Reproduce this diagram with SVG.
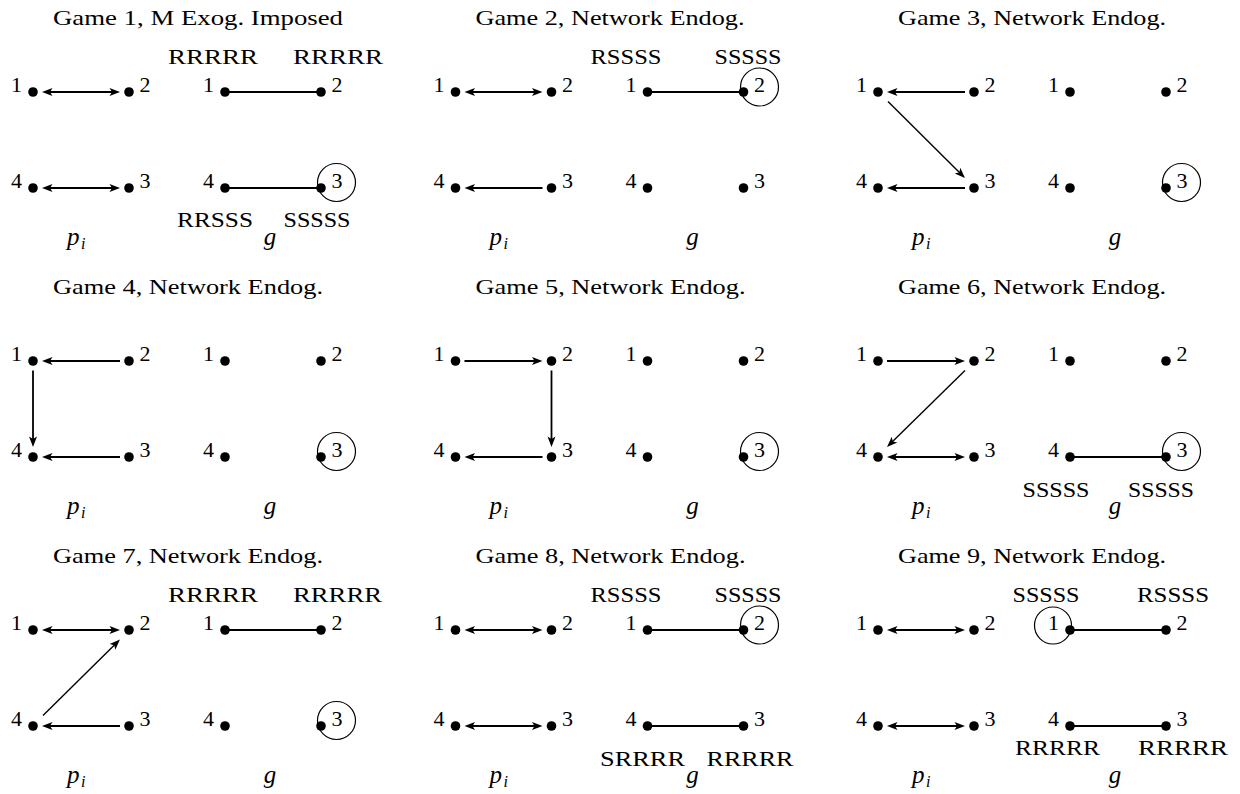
<svg xmlns="http://www.w3.org/2000/svg" width="1240" height="794" viewBox="0 0 1240 794">
<style>
text{font-family:"Liberation Serif","Times New Roman",serif;font-size:22px;fill:#000}
.it{font-style:italic;font-size:25px}
.sub{font-style:italic;font-size:16px}
.s{text-anchor:start}
.e{text-anchor:end}
.m{text-anchor:middle}
.dot{fill:#000}
.pl{stroke:#000;stroke-width:1.8;fill:none}
.dl{stroke:#000;stroke-width:1.4;fill:none}
.gl{stroke:#000;stroke-width:2;fill:none}
.ring{stroke:#000;stroke-width:1.2;fill:none}
.a1{marker-end:url(#ah)}
.a2{marker-start:url(#ah);marker-end:url(#ah)}
</style>
<defs>
<marker id="ah" markerUnits="userSpaceOnUse" viewBox="-5 -5 12 10" markerWidth="12" markerHeight="10" refX="0" refY="0" orient="auto-start-reverse" overflow="visible">
<path d="M6,0 L-4.5,-4 L-2,0 L-4.5,4 Z" fill="#000"/>
</marker>
</defs>

<!-- Game 1 -->
<g id="game1" transform="translate(0,0)">
<text id="g1-title" x="53" y="25" textLength="290" lengthAdjust="spacingAndGlyphs">Game 1, M Exog. Imposed</text>
<g id="g1-connectors">
<line class="pl a2" x1="48" y1="92" x2="114" y2="92"/>
<line class="pl a2" x1="48" y1="188" x2="114" y2="188"/>
<line class="gl" x1="225" y1="92" x2="321" y2="92"/>
<line class="gl" x1="225" y1="188" x2="321" y2="188"/>
</g>
<g id="g1-p1"><circle class="dot" cx="33" cy="92" r="4.8"/><text class="e" x="22" y="92">1</text></g>
<g id="g1-p2"><circle class="dot" cx="129" cy="92" r="4.8"/><text class="s" x="139.5" y="92">2</text></g>
<g id="g1-p3"><circle class="dot" cx="129" cy="188" r="4.8"/><text class="s" x="139.5" y="188">3</text></g>
<g id="g1-p4"><circle class="dot" cx="33" cy="188" r="4.8"/><text class="e" x="22" y="188">4</text></g>
<g id="g1-n1"><circle class="dot" cx="225" cy="92" r="4.8"/><text class="e" x="214" y="92">1</text><text class="m" x="213" y="64" textLength="90" lengthAdjust="spacingAndGlyphs">RRRRR</text></g>
<g id="g1-n2"><circle class="dot" cx="321" cy="92" r="4.8"/><text class="s" x="331.5" y="92">2</text><text class="m" x="338" y="64" textLength="90" lengthAdjust="spacingAndGlyphs">RRRRR</text></g>
<g id="g1-n3"><circle class="dot" cx="321" cy="188" r="4.8"/><text class="s" x="331.5" y="188">3</text><circle class="ring" cx="336.5" cy="182.5" r="19"/><text class="m" x="317" y="227" textLength="67" lengthAdjust="spacingAndGlyphs">SSSSS</text></g>
<g id="g1-n4"><circle class="dot" cx="225" cy="188" r="4.8"/><text class="e" x="214" y="188">4</text><text class="m" x="215" y="227" textLength="76" lengthAdjust="spacingAndGlyphs">RRSSS</text></g>
<text x="67" y="245" class="it">p</text><text x="81" y="249" class="sub">i</text>
<text x="270" y="245" class="it m">g</text>
</g>

<!-- Game 2 -->
<g id="game2" transform="translate(422.5,0)">
<text id="g2-title" x="53" y="25" textLength="269" lengthAdjust="spacingAndGlyphs">Game 2, Network Endog.</text>
<g id="g2-connectors">
<line class="pl a2" x1="48" y1="92" x2="114" y2="92"/>
<line class="pl a1" x1="120" y1="188" x2="48" y2="188"/>
<line class="gl" x1="225" y1="92" x2="321" y2="92"/>
</g>
<g id="g2-p1"><circle class="dot" cx="33" cy="92" r="4.8"/><text class="e" x="22" y="92">1</text></g>
<g id="g2-p2"><circle class="dot" cx="129" cy="92" r="4.8"/><text class="s" x="139.5" y="92">2</text></g>
<g id="g2-p3"><circle class="dot" cx="129" cy="188" r="4.8"/><text class="s" x="139.5" y="188">3</text></g>
<g id="g2-p4"><circle class="dot" cx="33" cy="188" r="4.8"/><text class="e" x="22" y="188">4</text></g>
<g id="g2-n1"><circle class="dot" cx="225" cy="92" r="4.8"/><text class="e" x="214" y="92">1</text><text class="m" x="203.5" y="64" textLength="71" lengthAdjust="spacingAndGlyphs">RSSSS</text></g>
<g id="g2-n2"><circle class="dot" cx="321" cy="92" r="4.8"/><text class="s" x="331.5" y="92">2</text><circle class="ring" cx="337" cy="87" r="19"/><text class="m" x="325.5" y="64" textLength="67" lengthAdjust="spacingAndGlyphs">SSSSS</text></g>
<g id="g2-n3"><circle class="dot" cx="321" cy="188" r="4.8"/><text class="s" x="331.5" y="188">3</text></g>
<g id="g2-n4"><circle class="dot" cx="225" cy="188" r="4.8"/><text class="e" x="214" y="188">4</text></g>
<text x="67" y="245" class="it">p</text><text x="81" y="249" class="sub">i</text>
<text x="270" y="245" class="it m">g</text>
</g>

<!-- Game 3 -->
<g id="game3" transform="translate(845,0)">
<text id="g3-title" x="53" y="25" textLength="268" lengthAdjust="spacingAndGlyphs">Game 3, Network Endog.</text>
<g id="g3-connectors">
<line class="pl a1" x1="120" y1="92" x2="48" y2="92"/>
<line class="dl a1" x1="43" y1="101.5" x2="115.7" y2="173.8"/>
<line class="pl a1" x1="120" y1="188" x2="48" y2="188"/>
</g>
<g id="g3-p1"><circle class="dot" cx="33" cy="92" r="4.8"/><text class="e" x="22" y="92">1</text></g>
<g id="g3-p2"><circle class="dot" cx="129" cy="92" r="4.8"/><text class="s" x="139.5" y="92">2</text></g>
<g id="g3-p3"><circle class="dot" cx="129" cy="188" r="4.8"/><text class="s" x="139.5" y="188">3</text></g>
<g id="g3-p4"><circle class="dot" cx="33" cy="188" r="4.8"/><text class="e" x="22" y="188">4</text></g>
<g id="g3-n1"><circle class="dot" cx="225" cy="92" r="4.8"/><text class="e" x="214" y="92">1</text></g>
<g id="g3-n2"><circle class="dot" cx="321" cy="92" r="4.8"/><text class="s" x="331.5" y="92">2</text></g>
<g id="g3-n3"><circle class="dot" cx="321" cy="188" r="4.8"/><text class="s" x="331.5" y="188">3</text><circle class="ring" cx="336.5" cy="182.5" r="19"/></g>
<g id="g3-n4"><circle class="dot" cx="225" cy="188" r="4.8"/><text class="e" x="214" y="188">4</text></g>
<text x="67" y="245" class="it">p</text><text x="81" y="249" class="sub">i</text>
<text x="270" y="245" class="it m">g</text>
</g>

<!-- Game 4 -->
<g id="game4" transform="translate(0,269)">
<text id="g4-title" x="53" y="25" textLength="270" lengthAdjust="spacingAndGlyphs">Game 4, Network Endog.</text>
<g id="g4-connectors">
<line class="pl a1" x1="120" y1="92" x2="48" y2="92"/>
<line class="pl a1" x1="33" y1="101.5" x2="33" y2="172"/>
<line class="pl a1" x1="120" y1="188" x2="48" y2="188"/>
</g>
<g id="g4-p1"><circle class="dot" cx="33" cy="92" r="4.8"/><text class="e" x="22" y="92">1</text></g>
<g id="g4-p2"><circle class="dot" cx="129" cy="92" r="4.8"/><text class="s" x="139.5" y="92">2</text></g>
<g id="g4-p3"><circle class="dot" cx="129" cy="188" r="4.8"/><text class="s" x="139.5" y="188">3</text></g>
<g id="g4-p4"><circle class="dot" cx="33" cy="188" r="4.8"/><text class="e" x="22" y="188">4</text></g>
<g id="g4-n1"><circle class="dot" cx="225" cy="92" r="4.8"/><text class="e" x="214" y="92">1</text></g>
<g id="g4-n2"><circle class="dot" cx="321" cy="92" r="4.8"/><text class="s" x="331.5" y="92">2</text></g>
<g id="g4-n3"><circle class="dot" cx="321" cy="188" r="4.8"/><text class="s" x="331.5" y="188">3</text><circle class="ring" cx="336.5" cy="182.5" r="19"/></g>
<g id="g4-n4"><circle class="dot" cx="225" cy="188" r="4.8"/><text class="e" x="214" y="188">4</text></g>
<text x="67" y="245" class="it">p</text><text x="81" y="249" class="sub">i</text>
<text x="270" y="245" class="it m">g</text>
</g>

<!-- Game 5 -->
<g id="game5" transform="translate(422.5,269)">
<text id="g5-title" x="53" y="25" textLength="270" lengthAdjust="spacingAndGlyphs">Game 5, Network Endog.</text>
<g id="g5-connectors">
<line class="pl a1" x1="42" y1="92" x2="114" y2="92"/>
<line class="pl a1" x1="129" y1="101.5" x2="129" y2="172"/>
<line class="pl a1" x1="120" y1="188" x2="48" y2="188"/>
</g>
<g id="g5-p1"><circle class="dot" cx="33" cy="92" r="4.8"/><text class="e" x="22" y="92">1</text></g>
<g id="g5-p2"><circle class="dot" cx="129" cy="92" r="4.8"/><text class="s" x="139.5" y="92">2</text></g>
<g id="g5-p3"><circle class="dot" cx="129" cy="188" r="4.8"/><text class="s" x="139.5" y="188">3</text></g>
<g id="g5-p4"><circle class="dot" cx="33" cy="188" r="4.8"/><text class="e" x="22" y="188">4</text></g>
<g id="g5-n1"><circle class="dot" cx="225" cy="92" r="4.8"/><text class="e" x="214" y="92">1</text></g>
<g id="g5-n2"><circle class="dot" cx="321" cy="92" r="4.8"/><text class="s" x="331.5" y="92">2</text></g>
<g id="g5-n3"><circle class="dot" cx="321" cy="188" r="4.8"/><text class="s" x="331.5" y="188">3</text><circle class="ring" cx="337" cy="182.5" r="19"/></g>
<g id="g5-n4"><circle class="dot" cx="225" cy="188" r="4.8"/><text class="e" x="214" y="188">4</text></g>
<text x="67" y="245" class="it">p</text><text x="81" y="249" class="sub">i</text>
<text x="270" y="245" class="it m">g</text>
</g>

<!-- Game 6 -->
<g id="game6" transform="translate(845,269)">
<text id="g6-title" x="53" y="25" textLength="268" lengthAdjust="spacingAndGlyphs">Game 6, Network Endog.</text>
<g id="g6-connectors">
<line class="pl a1" x1="42" y1="92" x2="114" y2="92"/>
<line class="dl a1" x1="120" y1="101.5" x2="46.3" y2="173.8"/>
<line class="pl a2" x1="48" y1="188" x2="114" y2="188"/>
<line class="gl" x1="225" y1="188" x2="321" y2="188"/>
</g>
<g id="g6-p1"><circle class="dot" cx="33" cy="92" r="4.8"/><text class="e" x="22" y="92">1</text></g>
<g id="g6-p2"><circle class="dot" cx="129" cy="92" r="4.8"/><text class="s" x="139.5" y="92">2</text></g>
<g id="g6-p3"><circle class="dot" cx="129" cy="188" r="4.8"/><text class="s" x="139.5" y="188">3</text></g>
<g id="g6-p4"><circle class="dot" cx="33" cy="188" r="4.8"/><text class="e" x="22" y="188">4</text></g>
<g id="g6-n1"><circle class="dot" cx="225" cy="92" r="4.8"/><text class="e" x="214" y="92">1</text></g>
<g id="g6-n2"><circle class="dot" cx="321" cy="92" r="4.8"/><text class="s" x="331.5" y="92">2</text></g>
<g id="g6-n3"><circle class="dot" cx="321" cy="188" r="4.8"/><text class="s" x="331.5" y="188">3</text><circle class="ring" cx="336.5" cy="182.5" r="19"/><text class="m" x="316" y="227.5" textLength="66" lengthAdjust="spacingAndGlyphs">SSSSS</text></g>
<g id="g6-n4"><circle class="dot" cx="225" cy="188" r="4.8"/><text class="e" x="214" y="188">4</text><text class="m" x="211" y="227.5" textLength="67" lengthAdjust="spacingAndGlyphs">SSSSS</text></g>
<text x="67" y="245" class="it">p</text><text x="81" y="249" class="sub">i</text>
<text x="270" y="245" class="it m">g</text>
</g>

<!-- Game 7 -->
<g id="game7" transform="translate(0,538)">
<text id="g7-title" x="53" y="25" textLength="270" lengthAdjust="spacingAndGlyphs">Game 7, Network Endog.</text>
<g id="g7-connectors">
<line class="pl a2" x1="48" y1="92" x2="114" y2="92"/>
<line class="dl a1" x1="43" y1="177.5" x2="115.7" y2="105.8"/>
<line class="pl a1" x1="120" y1="188" x2="48" y2="188"/>
<line class="gl" x1="225" y1="92" x2="321" y2="92"/>
</g>
<g id="g7-p1"><circle class="dot" cx="33" cy="92" r="4.8"/><text class="e" x="22" y="92">1</text></g>
<g id="g7-p2"><circle class="dot" cx="129" cy="92" r="4.8"/><text class="s" x="139.5" y="92">2</text></g>
<g id="g7-p3"><circle class="dot" cx="129" cy="188" r="4.8"/><text class="s" x="139.5" y="188">3</text></g>
<g id="g7-p4"><circle class="dot" cx="33" cy="188" r="4.8"/><text class="e" x="22" y="188">4</text></g>
<g id="g7-n1"><circle class="dot" cx="225" cy="92" r="4.8"/><text class="e" x="214" y="92">1</text><text class="m" x="213" y="64" textLength="90" lengthAdjust="spacingAndGlyphs">RRRRR</text></g>
<g id="g7-n2"><circle class="dot" cx="321" cy="92" r="4.8"/><text class="s" x="331.5" y="92">2</text><text class="m" x="337.5" y="64" textLength="89" lengthAdjust="spacingAndGlyphs">RRRRR</text></g>
<g id="g7-n3"><circle class="dot" cx="321" cy="188" r="4.8"/><text class="s" x="331.5" y="188">3</text><circle class="ring" cx="336.5" cy="182.5" r="19"/></g>
<g id="g7-n4"><circle class="dot" cx="225" cy="188" r="4.8"/><text class="e" x="214" y="188">4</text></g>
<text x="67" y="245" class="it">p</text><text x="81" y="249" class="sub">i</text>
<text x="270" y="245" class="it m">g</text>
</g>

<!-- Game 8 -->
<g id="game8" transform="translate(422.5,538)">
<text id="g8-title" x="53" y="25" textLength="270" lengthAdjust="spacingAndGlyphs">Game 8, Network Endog.</text>
<g id="g8-connectors">
<line class="pl a2" x1="48" y1="92" x2="114" y2="92"/>
<line class="pl a2" x1="48" y1="188" x2="114" y2="188"/>
<line class="gl" x1="225" y1="92" x2="321" y2="92"/>
<line class="gl" x1="225" y1="188" x2="321" y2="188"/>
</g>
<g id="g8-p1"><circle class="dot" cx="33" cy="92" r="4.8"/><text class="e" x="22" y="92">1</text></g>
<g id="g8-p2"><circle class="dot" cx="129" cy="92" r="4.8"/><text class="s" x="139.5" y="92">2</text></g>
<g id="g8-p3"><circle class="dot" cx="129" cy="188" r="4.8"/><text class="s" x="139.5" y="188">3</text></g>
<g id="g8-p4"><circle class="dot" cx="33" cy="188" r="4.8"/><text class="e" x="22" y="188">4</text></g>
<g id="g8-n1"><circle class="dot" cx="225" cy="92" r="4.8"/><text class="e" x="214" y="92">1</text><text class="m" x="203.5" y="64" textLength="71" lengthAdjust="spacingAndGlyphs">RSSSS</text></g>
<g id="g8-n2"><circle class="dot" cx="321" cy="92" r="4.8"/><text class="s" x="331.5" y="92">2</text><circle class="ring" cx="337" cy="87" r="19"/><text class="m" x="325.5" y="64" textLength="67" lengthAdjust="spacingAndGlyphs">SSSSS</text></g>
<g id="g8-n3"><circle class="dot" cx="321" cy="188" r="4.8"/><text class="s" x="331.5" y="188">3</text><text class="m" x="327.5" y="228" textLength="87" lengthAdjust="spacingAndGlyphs">RRRRR</text></g>
<g id="g8-n4"><circle class="dot" cx="225" cy="188" r="4.8"/><text class="e" x="214" y="188">4</text><text class="m" x="220" y="228" textLength="85" lengthAdjust="spacingAndGlyphs">SRRRR</text></g>
<text x="67" y="245" class="it">p</text><text x="81" y="249" class="sub">i</text>
<text x="270" y="245" class="it m">g</text>
</g>

<!-- Game 9 -->
<g id="game9" transform="translate(845,538)">
<text id="g9-title" x="53" y="25" textLength="268" lengthAdjust="spacingAndGlyphs">Game 9, Network Endog.</text>
<g id="g9-connectors">
<line class="pl a2" x1="48" y1="92" x2="114" y2="92"/>
<line class="pl a2" x1="48" y1="188" x2="114" y2="188"/>
<line class="gl" x1="225" y1="92" x2="321" y2="92"/>
<line class="gl" x1="225" y1="188" x2="321" y2="188"/>
</g>
<g id="g9-p1"><circle class="dot" cx="33" cy="92" r="4.8"/><text class="e" x="22" y="92">1</text></g>
<g id="g9-p2"><circle class="dot" cx="129" cy="92" r="4.8"/><text class="s" x="139.5" y="92">2</text></g>
<g id="g9-p3"><circle class="dot" cx="129" cy="188" r="4.8"/><text class="s" x="139.5" y="188">3</text></g>
<g id="g9-p4"><circle class="dot" cx="33" cy="188" r="4.8"/><text class="e" x="22" y="188">4</text></g>
<g id="g9-n1"><circle class="dot" cx="225" cy="92" r="4.8"/><text class="e" x="214" y="92">1</text><circle class="ring" cx="208" cy="87.5" r="18.5"/><text class="m" x="201" y="63.5" textLength="67" lengthAdjust="spacingAndGlyphs">SSSSS</text></g>
<g id="g9-n2"><circle class="dot" cx="321" cy="92" r="4.8"/><text class="s" x="331.5" y="92">2</text><text class="m" x="328" y="63.5" textLength="72" lengthAdjust="spacingAndGlyphs">RSSSS</text></g>
<g id="g9-n3"><circle class="dot" cx="321" cy="188" r="4.8"/><text class="s" x="331.5" y="188">3</text><text class="m" x="338" y="217" textLength="90" lengthAdjust="spacingAndGlyphs">RRRRR</text></g>
<g id="g9-n4"><circle class="dot" cx="225" cy="188" r="4.8"/><text class="e" x="214" y="188">4</text><text class="m" x="212.5" y="217" textLength="85" lengthAdjust="spacingAndGlyphs">RRRRR</text></g>
<text x="67" y="245" class="it">p</text><text x="81" y="249" class="sub">i</text>
<text x="270" y="245" class="it m">g</text>
</g>
</svg>
